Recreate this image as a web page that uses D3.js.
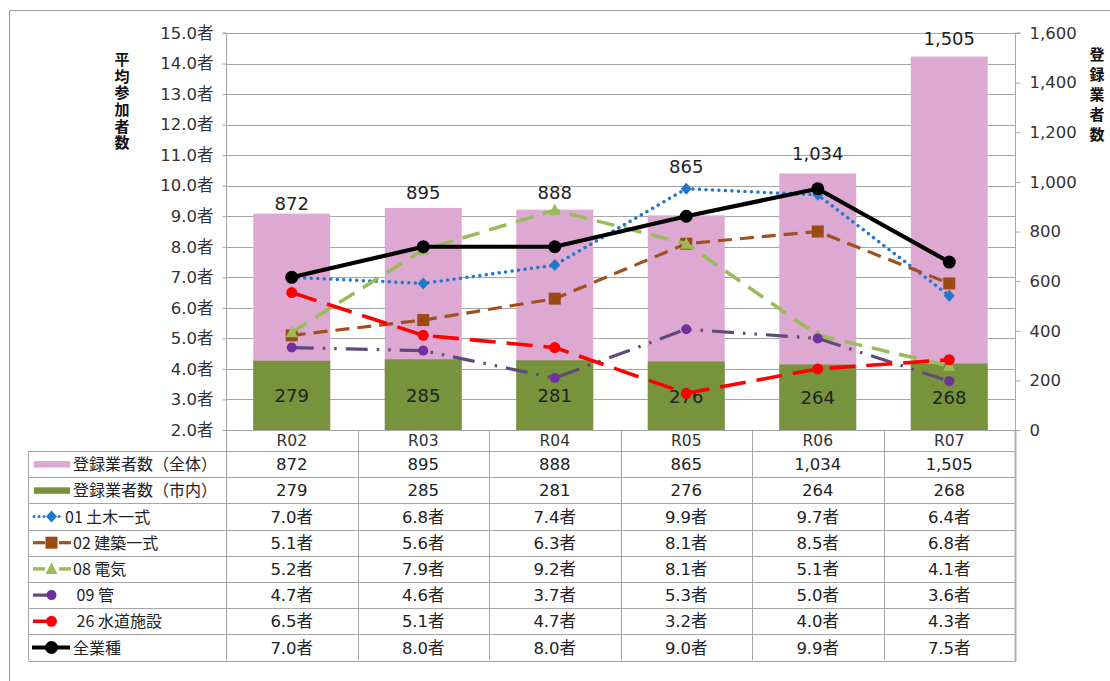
<!DOCTYPE html>
<html><head><meta charset="utf-8">
<script src="https://cdn.jsdelivr.net/npm/d3@7"></script>
<style>
html,body{margin:0;padding:0;background:#fff;}
text{font-family:"Noto Sans CJK JP","Noto Sans",sans-serif;}
.num{font-family:"DejaVu Sans","Noto Sans CJK JP",sans-serif;}
</style></head>
<body><svg id="c" width="1110" height="681"></svg>
<script>
const categories = ["R02","R03","R04","R05","R06","R07"];
const totalCounts = [872,895,888,865,1034,1505];
const cityCounts = [279,285,281,276,264,268];
const civil = [7.0,6.8,7.4,9.9,9.7,6.4];
const building = [5.1,5.6,6.3,8.1,8.5,6.8];
const electric = [5.2,7.9,9.2,8.1,5.1,4.1];
const pipe = [4.7,4.6,3.7,5.3,5.0,3.6];
const water = [6.5,5.1,4.7,3.2,4.0,4.3];
const allTypes = [7.0,8.0,8.0,9.0,9.9,7.5];
const leftTicks = [2,3,4,5,6,7,8,9,10,11,12,13,14,15];
const rightTicks = [0,200,400,600,800,1000,1200,1400,1600];

const barSeries = [
  {name:"登録業者数（全体）", values: totalCounts, color:"#DDA9D3"},
  {name:"登録業者数（市内）", values: cityCounts, color:"#77933C"}
];
const lineSeries = [
  {name:"01 土木一式", values: civil, color:"#1F78C9", mcolor:"#1F78C9", marker:"diamond", dash:"0.01 6.5", width:3.5, cap:"round"},
  {name:"02 建築一式", values: building, color:"#A0501C", mcolor:"#9C4A14", marker:"square", dash:"14 8", width:3.2, cap:"butt"},
  {name:"08 電気", values: electric, color:"#9BBB59", mcolor:"#9BBB59", marker:"triangle", dash:"18 10", width:3.5, cap:"butt"},
  {name:" 09 管", values: pipe, color:"#604A7B", mcolor:"#7030A0", marker:"circle", dash:"22 9 2.5 9 2.5 9", width:3.2, cap:"butt", r:5},
  {name:" 26 水道施設", values: water, color:"#FF0000", mcolor:"#FF0000", marker:"circle", dash:"26 11", width:3.6, cap:"butt", r:5.5},
  {name:"全業種", values: allTypes, color:"#000000", mcolor:"#000000", marker:"circle", dash:null, width:4.2, cap:"butt", r:6.5}
];

const svg = d3.select("#c");
const L = 226, R = 1015, T = 33, B = 430;
const x = d3.scaleBand().domain(categories).range([L,R]).padding(0);
const yL = d3.scaleLinear().domain([2,15]).range([B,T]);
const yR = d3.scaleLinear().domain([0,1600]).range([B,T]);
const bw = x.bandwidth()*0.585;
const cx = c => x(c)+x.bandwidth()/2;

// outer frame
svg.append("path").attr("d","M9.5,690 V10.5 H1120").attr("fill","none").attr("stroke","#9a9a9a").attr("stroke-width",1);

// gridlines
svg.append("g").selectAll("line").data(leftTicks).join("line")
  .attr("x1",L).attr("x2",R).attr("y1",d=>Math.round(yL(d))+0.5).attr("y2",d=>Math.round(yL(d))+0.5)
  .attr("stroke","#a6a6a6").attr("stroke-width",1);

// bars
barSeries.forEach(s=>{
  svg.append("g").selectAll("rect").data(categories).join("rect")
    .attr("x",c=>cx(c)-bw/2).attr("width",bw)
    .attr("y",(c,i)=>yR(s.values[i])).attr("height",(c,i)=>B-yR(s.values[i]))
    .attr("fill",s.color);
});
// bar labels (manually nudged upward like the original, in px)
const labelLift = [4, 9, 11, 42, 13, 12];
svg.append("g").selectAll("text").data(categories).join("text").attr("class","num")
  .attr("x",cx).attr("y",(c,i)=>yR(totalCounts[i])-labelLift[i])
  .attr("text-anchor","middle").attr("font-size",18).attr("fill","#222")
  .text((c,i)=>d3.format(",")(totalCounts[i]));
svg.append("g").selectAll("text").data(categories).join("text").attr("class","num")
  .attr("x",cx).attr("y",(c,i)=>(yR(cityCounts[i])+B)/2+7)
  .attr("text-anchor","middle").attr("font-size",18).attr("fill","#222")
  .text((c,i)=>d3.format(",")(cityCounts[i]));

// axes
const axL = svg.append("g").attr("transform",`translate(${L+0.5},0)`)
  .call(d3.axisLeft(yL).tickValues(leftTicks).tickFormat(d=>d.toFixed(1)+"者").tickSize(4).tickPadding(9));
const axR = svg.append("g").attr("transform",`translate(${R+0.5},0)`)
  .call(d3.axisRight(yR).tickValues(rightTicks).tickFormat(d3.format(",")).tickSize(5).tickPadding(9));
[axL,axR].forEach(a=>{
  a.select(".domain").attr("stroke","#a6a6a6");
  a.selectAll(".tick line").attr("stroke","#a6a6a6");
  a.selectAll(".tick text").attr("font-size",16.5).attr("fill","#333")
   .style("font-family",'"DejaVu Sans","Noto Sans CJK JP",sans-serif');
});
axL.select(".domain").attr("d",`M-4,${T}H0V${B+21}`);
axR.select(".domain").attr("d",`M5,${T}H0V${B}`);

// axis titles (vertical text)
svg.append("text").attr("x",122).attr("y",52).attr("font-size",15).attr("font-weight","bold").attr("fill","#111")
  .style("writing-mode","vertical-rl").style("text-orientation","upright").style("letter-spacing","1.6px")
  .text("平均参加者数");
svg.append("text").attr("x",1097).attr("y",47).attr("font-size",15).attr("font-weight","bold").attr("fill","#111")
  .style("writing-mode","vertical-rl").style("text-orientation","upright").style("letter-spacing","5px")
  .text("登録業者数");

function drawMarker(g, s, px, py){
  if(s.marker==="circle"){
    g.append("circle").attr("cx",px).attr("cy",py).attr("r",s.r).attr("fill",s.mcolor);
  } else if(s.marker==="diamond"){
    g.append("path").attr("d",`M0,-6L5.5,0L0,6L-5.5,0Z`).attr("transform",`translate(${px},${py})`).attr("fill",s.mcolor);
  } else if(s.marker==="square"){
    g.append("rect").attr("x",px-6).attr("y",py-6).attr("width",12).attr("height",12).attr("fill",s.mcolor);
  } else {
    g.append("path").attr("d",`M0,-6.5L6,5L-6,5Z`).attr("transform",`translate(${px},${py})`).attr("fill",s.mcolor);
  }
}
lineSeries.forEach(s=>{
  const g = svg.append("g");
  const line = d3.line().x((v,i)=>cx(categories[i])).y(v=>yL(v));
  g.append("path").attr("d",line(s.values)).attr("fill","none").attr("stroke",s.color)
    .attr("stroke-width",s.width).attr("stroke-dasharray",s.dash).attr("stroke-linecap",s.cap)
    .attr("stroke-linejoin","round");
  s.values.forEach((v,i)=>drawMarker(g,s,cx(categories[i]),yL(v)));
});

// table
const rowTop = 451, rowH = 26.2, TL = 28;
const nRows = 8;
const tg = svg.append("g");
const gridC = "#a6a6a6";
for(let r=0;r<=nRows;r++){
  const yy = Math.round(rowTop + r*rowH)+0.5;
  tg.append("line").attr("x1",TL).attr("x2",R+1).attr("y1",yy).attr("y2",yy).attr("stroke",gridC);
}
tg.append("line").attr("x1",TL+0.5).attr("x2",TL+0.5).attr("y1",rowTop).attr("y2",rowTop+nRows*rowH).attr("stroke",gridC);
categories.forEach(c=>{
  const xx = Math.round(x(c))+0.5;
  tg.append("line").attr("x1",xx).attr("x2",xx).attr("y1",B).attr("y2",rowTop+nRows*rowH).attr("stroke",gridC);
});
tg.append("line").attr("x1",R+0.5).attr("x2",R+0.5).attr("y1",B).attr("y2",rowTop+nRows*rowH+1).attr("stroke","#b0b0b0").attr("stroke-width",2);
tg.selectAll("text.h").data(categories).join("text").attr("class","h num")
  .attr("x",cx).attr("y",B+16).attr("text-anchor","middle").attr("font-size",15.5).attr("fill","#333").text(c=>c);
const rows = [
  ...barSeries.map(s=>({s, kind:"bar", fmt:d3.format(",")})),
  ...lineSeries.map(s=>({s, kind:"line", fmt:v=>v.toFixed(1)+"者"}))
];
rows.forEach((row,r)=>{
  const yc = rowTop + r*rowH + rowH/2;
  tg.selectAll(null).data(categories).join("text").attr("class","num")
    .attr("x",cx).attr("y",yc+6).attr("text-anchor","middle").attr("font-size",16.5).attr("fill","#222")
    .text((c,i)=>row.fmt(row.s.values[i]));
  const s = row.s;
  let tx = 73;
  if(row.kind==="bar"){
    tg.append("rect").attr("x",34).attr("y",yc-3).attr("width",36).attr("height",6.5).attr("fill",s.color);
  } else {
    const g = tg.append("g");
    if(s.marker==="diamond"){
      g.append("line").attr("x1",34).attr("x2",63).attr("y1",yc).attr("y2",yc).attr("stroke",s.color)
        .attr("stroke-width",3).attr("stroke-dasharray","0.01 5").attr("stroke-linecap","round");
      tx = 65;
    } else if(s.name.includes("管")||s.name.includes("水道")){
      g.append("line").attr("x1",33).attr("x2",52).attr("y1",yc).attr("y2",yc).attr("stroke",s.color).attr("stroke-width",s.width);
    } else if(s.dash){
      g.append("line").attr("x1",33).attr("x2",45).attr("y1",yc).attr("y2",yc).attr("stroke",s.color).attr("stroke-width",s.width);
      g.append("line").attr("x1",59).attr("x2",71).attr("y1",yc).attr("y2",yc).attr("stroke",s.color).attr("stroke-width",s.width);
    } else {
      g.append("line").attr("x1",32).attr("x2",70).attr("y1",yc).attr("y2",yc).attr("stroke",s.color).attr("stroke-width",s.width);
    }
    drawMarker(g,s,51.5,yc);
  }
  tg.append("text").attr("x",tx).attr("y",yc+6).attr("font-size",16).attr("fill","#222")
    .attr("xml:space","preserve").style("white-space","pre").text(s.name);
});
</script>
</body></html>
